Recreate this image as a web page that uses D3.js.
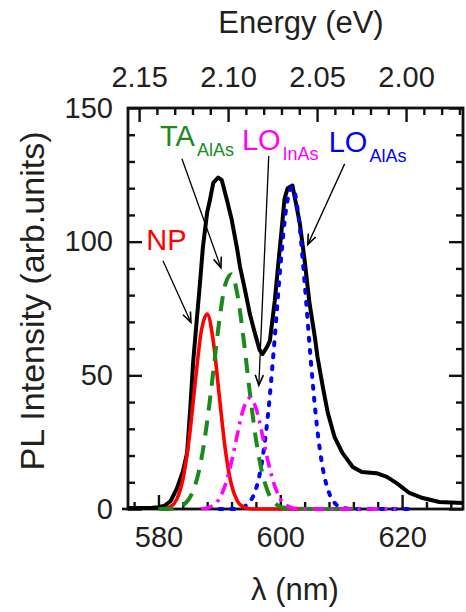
<!DOCTYPE html>
<html>
<head>
<meta charset="utf-8">
<script src="https://cdn.jsdelivr.net/npm/d3@7"></script>
<style>
  body { margin: 0; background: #fff; }
  svg { display: block; }
  text { font-family: "Liberation Sans", Arial, Helvetica, sans-serif; fill: #231f20; }
</style>
</head>
<body>
<svg id="chart" width="466" height="612"></svg>
<script>
// Total PL spectrum (measured), wavelength in nm and intensity in arb. units
const totalWl = [575,577,579,580,581,582,583,584,584.7,585.2,585.7,586.3,586.8,587.3,588,588.4,589,589.8,
  590.4,591.2,592,592.9,593.4,594.2,595,595.8,596.6,597.1,597.8,598.3,599.1,599.6,600.2,600.7,601.2,602,603.2,604,
  604.8,605.7,606.1,607,607.8,608.9,610.2,611.9,613.4,615.8,617.5,619.1,621.2,623.4,626.1,630];
const totalI = [0.4,0.4,0.5,0.7,1.2,3,7.5,14,21,37,55,71,84,98,111,115,122,124,
  123,116,108.5,97.5,90.5,82,73,66,59.5,58,60.5,63,78,90,104,116,120,121,107,93,
  77,64,57,45.5,36,27,21,15.7,13.8,13.4,12,9.7,6,4.1,2.6,2.2];

// Fitted components
const npWl = [581,582,583,584,585,586,587,588,589,590,591,592,593,594,595,596,597,600,604,608,612];
const npI  = [0.2,0.9,3.6,10.9,25.5,46.5,66,72.9,62.8,42.1,21.9,8.9,2.8,0.7,0.1,0,0,0,0,0,0];

const taWl = [580,581,582,583,584,585,586,587,588,589,590,591,592,593,594,595,596,597,598,599,600,601,602,606,612];
const taI  = [0,0,0.1,0.4,1.4,3.7,8.7,18.1,32.7,51.4,70.5,84.2,87.8,79.7,63.1,43.6,26.2,13.8,6.3,2.5,0.9,0.3,0.1,0,0];

const loInAsWl = [587,588,589,590,591,592,593,594,595,596,597,598,599,600,601,602,603,604,610,619];
const loInAsI  = [0.1,0.4,1.4,3.9,9.2,17.7,28.4,37.8,41.5,37.8,28.4,17.7,9.2,3.9,1.4,0.4,0.1,0,0,0];

const loAlAsWl = [590,591,592,593,594,595,596,597,598,599,600,601,602,603,604,605,606,607,608,609,610,611,612,617,622];
const loAlAsI  = [0,0,0,0.2,0.8,2.7,7.4,17.7,35.6,61.5,90.3,112.9,120.4,109.4,84.7,55.9,31.4,15,6.1,2.1,0.6,0.15,0,0,0];

// Axis ticks
const wlMajor = [580, 600, 620];
const wlMinor = [576,584,588,592,596,604,608,612,616,624,628];
const intMajor = [0, 50, 100, 150];
const intMinor = [10,20,30,40,60,70,80,90,110,120,130,140];
const eMajor = [2.15, 2.10, 2.05, 2.00];
const eMinor = [2.14,2.13,2.12,2.11,2.09,2.08,2.07,2.06,2.04,2.03,2.02,2.01,1.99,1.98,1.97];
const hc = 1239.84; // eV·nm

const svg = d3.select("#chart");
const plotL = 128, plotR = 463, plotT = 108, plotB = 509;
const wlDomain = [575, 630];
const x = d3.scaleLinear().domain(wlDomain).range([plotL, plotR]);
const y = d3.scaleLinear().domain([0, 150]).range([plotB, plotT]);
// top energy axis: linear between the photon energies at the window edges
const xE = d3.scaleLinear().domain(wlDomain.map(l => hc / l)).range([plotL, plotR]);

const fs = 29;
const axisColor = "#111";

function styleAxis(g) {
  g.select(".domain").remove();
  g.selectAll(".tick line").attr("stroke", axisColor).attr("stroke-width", 2.4);
  g.selectAll(".tick text").attr("font-size", fs).attr("fill", "#231f20")
    .attr("font-family", '"Liberation Sans", Arial, sans-serif');
}

// frame
svg.append("rect").attr("x", plotL).attr("y", plotT).attr("width", plotR - plotL).attr("height", plotB - plotT)
  .attr("fill", "none").attr("stroke", axisColor).attr("stroke-width", 2.8);

// bottom axis
svg.append("g").attr("transform", `translate(0,${plotB})`)
  .call(d3.axisBottom(x).tickValues(wlMinor).tickSize(-7).tickFormat(""))
  .call(styleAxis);
svg.append("g").attr("transform", `translate(0,${plotB})`)
  .call(d3.axisBottom(x).tickValues(wlMajor).tickSize(-14).tickPadding(17).tickFormat(d3.format("d")))
  .call(styleAxis);

// top axis (photon energy)
svg.append("g").attr("transform", `translate(0,${plotT})`)
  .call(d3.axisTop(xE).tickValues(eMinor).tickSize(-7).tickFormat(""))
  .call(styleAxis);
svg.append("g").attr("transform", `translate(0,${plotT})`)
  .call(d3.axisTop(xE).tickValues(eMajor).tickSize(-14).tickPadding(21).tickFormat(d3.format(".2f")))
  .call(styleAxis);

// left axis
svg.append("g").attr("transform", `translate(${plotL},0)`)
  .call(d3.axisLeft(y).tickValues(intMinor).tickSize(-7).tickFormat(""))
  .call(styleAxis);
svg.append("g").attr("transform", `translate(${plotL},0)`)
  .call(d3.axisLeft(y).tickValues(intMajor).tickSize(-14).tickPadding(15).tickFormat(d3.format("d")))
  .call(styleAxis);

// right axis
svg.append("g").attr("transform", `translate(${plotR},0)`)
  .call(d3.axisRight(y).tickValues(intMinor).tickSize(-7).tickFormat(""))
  .call(styleAxis);
svg.append("g").attr("transform", `translate(${plotR},0)`)
  .call(d3.axisRight(y).tickValues(intMajor).tickSize(-14).tickFormat(""))
  .call(styleAxis);

// small outward stub at the origin
svg.append("line").attr("x1", plotL - 6).attr("x2", plotL).attr("y1", y(0)).attr("y2", y(0))
  .attr("stroke", axisColor).attr("stroke-width", 2.6);

// curves
const smooth = d3.line().x(d => x(d[0])).y(d => y(d[1])).curve(d3.curveMonotoneX);
const straight = d3.line().x(d => x(d[0])).y(d => y(d[1]));
const zip = (a, b) => a.map((v, i) => [v, b[i]]);

svg.append("path").datum(zip(totalWl, totalI)).attr("d", straight)
  .attr("fill", "none").attr("stroke", "#000").attr("stroke-width", 4)
  .attr("stroke-linejoin", "round");
svg.append("path").datum(zip(loAlAsWl, loAlAsI)).attr("d", smooth)
  .attr("fill", "none").attr("stroke", "#0000ff").attr("stroke-width", 4)
  .attr("stroke-dasharray", "3,9").attr("stroke-linecap", "round");
svg.append("path").datum(zip(npWl, npI)).attr("d", smooth)
  .attr("fill", "none").attr("stroke", "#ff0000").attr("stroke-width", 3.6);
svg.append("path").datum(zip(taWl, taI)).attr("d", smooth)
  .attr("fill", "none").attr("stroke", "#1a8a1a").attr("stroke-width", 4)
  .attr("stroke-dasharray", "15,10");
svg.append("path").datum(zip(loInAsWl, loInAsI)).attr("d", smooth)
  .attr("fill", "none").attr("stroke", "#ff00ff").attr("stroke-width", 3.6)
  .attr("stroke-dasharray", "12,6,3,6");

// annotations: label anchor and arrow (from -> tip) in data units
const notes = [
  { main: "NP", sub: "", color: "#ff0000", at: [578.0, 97.0], from: [580.74, 92.9], tip: [585.33, 69.8] },
  { main: "TA", sub: "AlAs", color: "#1a8a1a", at: [580.25, 135.6], from: [583.85, 131.0], tip: [590.25, 90.3] },
  { main: "LO", sub: "InAs", color: "#ff00ff", at: [593.7, 134.3], from: [598.11, 132.1], tip: [596.48, 46.3] },
  { main: "LO", sub: "AlAs", color: "#0000ff", at: [607.95, 133.5], from: [610.57, 129.1], tip: [604.51, 98.9] }
];

notes.forEach(n => {
  const t = svg.append("text").attr("x", x(n.at[0])).attr("y", y(n.at[1]))
    .attr("font-size", 29).style("fill", n.color);
  t.append("tspan").text(n.main);
  if (n.sub) t.append("tspan").attr("dx", 2).attr("dy", 10).attr("font-size", 18).text(n.sub);

  const x0 = x(n.from[0]), y0 = y(n.from[1]), x1 = x(n.tip[0]), y1 = y(n.tip[1]);
  svg.append("line").attr("x1", x0).attr("y1", y0).attr("x2", x1).attr("y2", y1)
    .attr("stroke", "#000").attr("stroke-width", 1.3);
  const ang = Math.atan2(y1 - y0, x1 - x0), len = 11, spread = 0.38;
  const p1 = [x1 - len * Math.cos(ang - spread), y1 - len * Math.sin(ang - spread)];
  const p2 = [x1 - len * Math.cos(ang + spread), y1 - len * Math.sin(ang + spread)];
  svg.append("path").attr("d", `M${p1}L${x1},${y1}L${p2}`)
    .attr("fill", "none").attr("stroke", "#000").attr("stroke-width", 1.6);
});

// axis titles
svg.append("text").attr("x", 301).attr("y", 33).attr("text-anchor", "middle")
  .attr("font-size", 31).text("Energy (eV)");
svg.append("text").attr("x", 295).attr("y", 600).attr("text-anchor", "middle")
  .attr("font-size", 31).text("λ (nm)");
svg.append("text").attr("transform", "translate(44,301) rotate(-90)").attr("text-anchor", "middle")
  .attr("font-size", 34).text("PL Intensity (arb.units)");
</script>
</body>
</html>
